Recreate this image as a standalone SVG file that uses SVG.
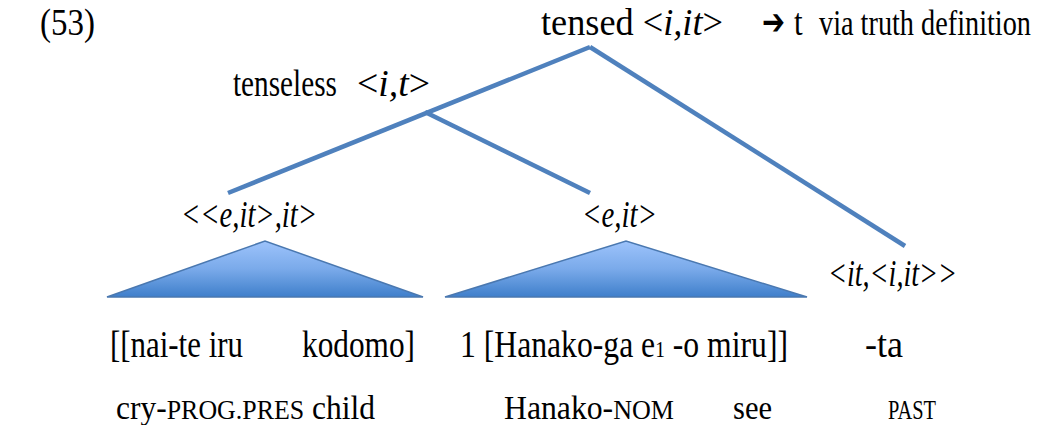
<svg xmlns="http://www.w3.org/2000/svg" width="1044" height="425" viewBox="0 0 1044 425" font-family="'Liberation Serif', 'DejaVu Serif', serif">
<defs>
<linearGradient id="tri" x1="0" y1="0" x2="0" y2="1">
<stop offset="0" stop-color="#9dc3fb"/>
<stop offset="0.5" stop-color="#7aaaea"/>
<stop offset="1" stop-color="#3f7fcb"/>
</linearGradient>
<style>
text{font-size:31px;fill:#000}
.it{font-style:italic}
.gl{font-size:28px}
.sc{font-size:23px}
.edge{stroke:#4f81bd;stroke-width:4.5;fill:none}
.tri{fill:url(#tri);stroke:#4a78b0;stroke-width:1.5}
</style>
</defs>
<rect width="1044" height="425" fill="#fff"/>
<g id="label" transform="scale(1 1.2)">
<text x="40" y="29" textLength="55" lengthAdjust="spacingAndGlyphs">(53)</text>
</g>
<g id="connectors">
<line class="edge" x1="590" y1="47" x2="228" y2="193"/>
<line class="edge" x1="590" y1="47" x2="905" y2="246"/>
<line class="edge" x1="425" y1="112" x2="590" y2="193"/>
</g>
<g id="root">
<g transform="scale(1 1.2)">
<text x="541" y="29" textLength="182" lengthAdjust="spacingAndGlyphs">tensed &lt;<tspan class="it">i,it</tspan>&gt;</text>
<text x="762" y="28" textLength="23" lengthAdjust="spacingAndGlyphs" font-family="'DejaVu Sans', sans-serif" style="font-size:30px;font-weight:bold">➔</text>
<text x="794" y="29">t</text>
</g>
<g transform="scale(1 1.3)">
<text x="819" y="26.8" style="font-size:28.3px" textLength="212" lengthAdjust="spacingAndGlyphs">via truth definition</text>
</g>
</g>
<g id="tenseless" transform="scale(1 1.2)">
<text x="233" y="80" textLength="104" lengthAdjust="spacingAndGlyphs">tenseless</text>
<text x="357" y="80" textLength="73" lengthAdjust="spacingAndGlyphs">&lt;<tspan class="it">i,t</tspan>&gt;</text>
</g>
<g id="relclause">
<polygon class="tri" points="107,297 265,241 423,297"/>
<g transform="scale(1 1.2)">
<text x="181" y="189.5" class="it" textLength="136" lengthAdjust="spacingAndGlyphs">&lt;&lt;e,it&gt;,it&gt;</text>
</g>
</g>
<g id="vp">
<polygon class="tri" points="445,297 626,241 807,297"/>
<g transform="scale(1 1.2)">
<text x="582" y="189.5" class="it" textLength="75" lengthAdjust="spacingAndGlyphs">&lt;e,it&gt;</text>
</g>
</g>
<g id="past" transform="scale(1 1.2)">
<text x="828" y="238.5" class="it" textLength="129" lengthAdjust="spacingAndGlyphs">&lt;it,&lt;i,it&gt;&gt;</text>
</g>
<g id="words" transform="scale(1 1.2)">
<text x="110" y="297.5" textLength="133" lengthAdjust="spacingAndGlyphs">[[nai-te iru</text>
<text x="302" y="297.5" textLength="113" lengthAdjust="spacingAndGlyphs">kodomo]</text>
<text x="460" y="297.5" textLength="328" lengthAdjust="spacingAndGlyphs">1 [Hanako-ga e<tspan font-size="19">1</tspan> -o miru]]</text>
<text x="865" y="297.5" textLength="38" lengthAdjust="spacingAndGlyphs">-ta</text>
</g>
<g id="gloss" transform="scale(1 1.2)">
<text x="116" y="349.5" class="gl" textLength="259" lengthAdjust="spacingAndGlyphs">cry-<tspan class="sc">PROG.PRES</tspan> child</text>
<text x="504" y="349.5" class="gl" textLength="170" lengthAdjust="spacingAndGlyphs">Hanako-<tspan class="sc">NOM</tspan></text>
<text x="733" y="349.5" class="gl" textLength="39" lengthAdjust="spacingAndGlyphs">see</text>
<text x="888" y="349.5" class="sc" textLength="48" lengthAdjust="spacingAndGlyphs">PAST</text>
</g>
</svg>
